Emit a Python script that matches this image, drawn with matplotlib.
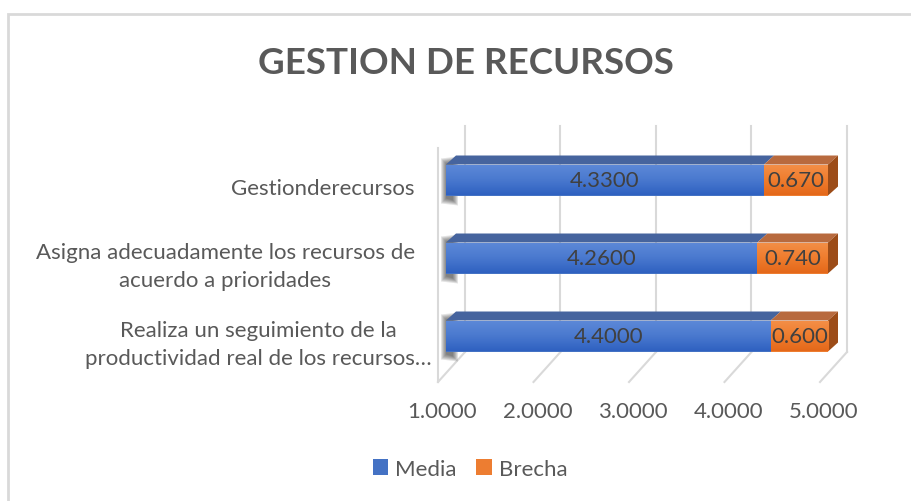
import numpy as np
import matplotlib
matplotlib.use("Agg")
import matplotlib.pyplot as plt
from matplotlib.patches import Patch, Polygon, Rectangle
from matplotlib.colors import LinearSegmentedColormap

# data (bottom to top, as drawn)
categories = ["Realiza un seguimiento de la\nproductividad real de los recursos…",
              "Asigna adecuadamente los recursos de\nacuerdo a prioridades",
              "Gestionderecursos"]
media = [4.40, 4.26, 4.33]
brecha = [0.600, 0.740, 0.670]
xticks = [1, 2, 3, 4, 5]
series_names = ["Media", "Brecha"]
title = "GESTION DE RECURSOS"

plt.rcParams['font.family'] = ['Lato', 'DejaVu Sans']

W, H, DPI = 912, 502, 100
XMIN = 1.0
PX0, PXU = 446, 95.5      # pixel of x=1 on the bar front plane, pixels per unit
PY0, PYU = 337, 78        # pixel of the bottom bar centre, pixels per category
FS = 16

def vx(px):
    return XMIN + (px - PX0) / PXU

def vy(py):
    return (PY0 - py) / PYU

fig = plt.figure(figsize=(W / DPI, H / DPI), dpi=DPI)
ax_l, ax_r, ax_t, ax_b = 430, 880, 100, 400
ax = fig.add_axes([ax_l / W, (H - ax_b) / H, (ax_r - ax_l) / W, (ax_b - ax_t) / H])
ax.set_axis_off()

# figure border (only top and left are inside the picture)
fig.patches.append(Rectangle((8 / W, -0.1), 1.2, (H - 15) / H + 0.1, transform=fig.transFigure,
                             fill=False, edgecolor="#d9d9d9", lw=2))

grid_c = "#d9d9d9"
back_dx = 19 / PXU
front_dx = -8 / PXU
y_floor_back = vy(353)
y_floor_front = vy(383)
y_wall_top = vy(127)
for t in xticks:
    ax.plot([t + back_dx, t + back_dx], [y_floor_back, y_wall_top], color=grid_c, lw=1.5, zorder=1)
    ax.plot([t + back_dx, t + front_dx], [y_floor_back, y_floor_front], color=grid_c, lw=1.5, zorder=1)
ax.plot([XMIN + front_dx] * 2, [y_floor_front, vy(149)], color=grid_c, lw=1.5, zorder=1)

y = np.arange(len(categories))
bh = 31 / PYU
ddx, ddy = 10 / PXU, 9 / PYU

blue_cmap = LinearSegmentedColormap.from_list("b", ["#2f61c0", "#4a79cf", "#5d89d8"])
orange_cmap = LinearSegmentedColormap.from_list("o", ["#e4681a", "#ef7d2e", "#f38f48"])
grad = np.linspace(0, 1, 64).reshape(-1, 1)

b1 = ax.barh(y, np.array(media) - XMIN, left=XMIN, height=bh, color="#4472c4", zorder=4)
b2 = ax.barh(y, brecha, left=media, height=bh, color="#ed7d31", zorder=4)

for bars, cmap in [(b1, blue_cmap), (b2, orange_cmap)]:
    for p in bars:
        x0, y0 = p.get_x(), p.get_y()
        x1, y1 = x0 + p.get_width(), y0 + p.get_height()
        im = ax.imshow(grad, extent=[x0, x1, y0, y1], cmap=cmap, aspect='auto',
                       origin='lower', zorder=5)
        im.set_clip_path(p)

for i in range(len(categories)):
    top = y[i] + bh / 2
    bot = y[i] - bh / 2
    xs = XMIN
    xm = media[i]
    xe = media[i] + brecha[i]
    # soft shadow at the left end
    for k in range(6):
        ax.add_patch(Polygon([(xs - (5 - k) / PXU, top + (6 - k) / PYU),
                              (xs + (12 - k) / PXU, top + (8 - k) / PYU),
                              (xs + (12 - k) / PXU, bot - (10 - k) / PYU),
                              (xs - (5 - k) / PXU, bot - (8 - k) / PYU)],
                             closed=True, facecolor="#1a1a1a", alpha=0.12, lw=0, zorder=3))
    ax.add_patch(Polygon([(xs, top), (xm, top), (xm + ddx, top + ddy), (xs + ddx, top + ddy)],
                         closed=True, facecolor="#46649e", lw=0, zorder=4))
    ax.add_patch(Polygon([(xm, top), (xe, top), (xe + ddx, top + ddy), (xm + ddx, top + ddy)],
                         closed=True, facecolor="#b86a3e", lw=0, zorder=4))
    ax.add_patch(Polygon([(xe, bot), (xe, top), (xe + ddx, top + ddy), (xe + ddx, bot + ddy)],
                         closed=True, facecolor="#9c4c18", lw=0, zorder=4))
    ax.text((xs + xm) / 2, y[i], f"{media[i]:.4f}", ha="center", va="center",
            fontsize=FS, color="#404040", zorder=6)
    ax.text((xm + xe) / 2, y[i], f"{brecha[i]:.3f}", ha="center", va="center",
            fontsize=FS, color="#404040", zorder=6)

ax.set_xlim(vx(ax_l), vx(ax_r))
ax.set_ylim(vy(ax_b), vy(ax_t))

# category labels
lab_x = vx(415)
for i, c in enumerate(categories):
    dx = 17 if i == 0 else 0
    ax.text(lab_x + dx / PXU, y[i] - 8 / PYU, c, ha="right", va="center", multialignment="center",
            fontsize=FS, color="#595959", linespacing=1.5)

# value axis labels
for t in xticks:
    ax.text(t - 4 / PXU, vy(412), f"{t:.4f}", ha="center", va="center",
            fontsize=FS, color="#595959")

fig.text(466 / W, 1 - 64 / H, title, ha="center", va="center", fontsize=26.5,
         fontweight="bold", color="#595959")

handles = [Patch(facecolor="#4472c4"), Patch(facecolor="#ed7d31")]
fig.legend(handles, series_names, loc="center", bbox_to_anchor=(470 / W, 1 - 470 / H), ncol=2,
           frameon=False, fontsize=FS, handlelength=0.7, handleheight=0.7,
           handletextpad=0.3, columnspacing=0.9, labelcolor="#595959")

fig.savefig("out.png", dpi=DPI)
